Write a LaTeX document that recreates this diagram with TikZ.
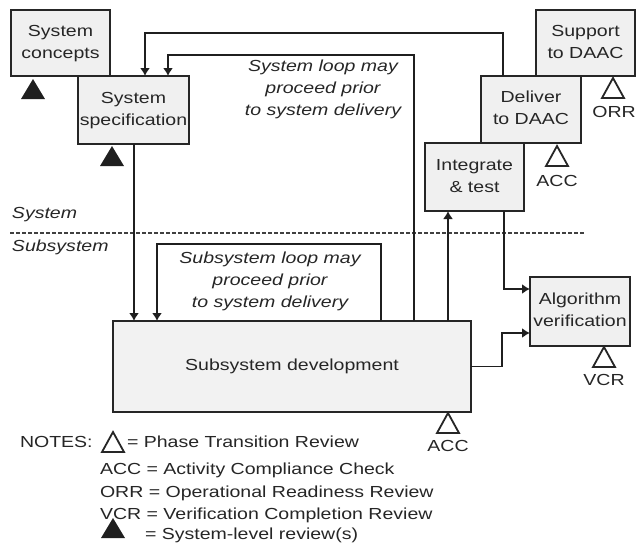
\documentclass[tikz,border=0pt]{standalone}
\usepackage{fontspec}
\setmainfont{Liberation Sans}
\usepackage{graphicx}
\usetikzlibrary{arrows.meta}
\newcommand{\wt}[1]{\scalebox{1.22}[1]{\begin{tabular}{@{}c@{}}#1\end{tabular}}}
\newcommand{\wl}[1]{\scalebox{1.22}[1]{#1}}
\begin{document}
\begin{tikzpicture}[x=1pt,y=-1pt,
  every node/.style={font=\fontsize{16}{22}\selectfont, inner sep=0pt, outer sep=0pt, text=black!85},
  box/.style={draw=black!85, line width=2pt, fill=black!6},
  conn/.style={draw=black!88, line width=1.6pt},
  arr/.style={conn, -{Latex[length=8pt,width=10pt]}},
  lbl/.style={anchor=center},
  wtri/.pic={\draw[line width=1.8pt, draw=black!85, fill=white, line join=miter] (-11,0) -- (11,0) -- (0,-20) -- cycle;},
  btri/.pic={\fill[black!88] (-12,0) -- (12,0) -- (0,-20) -- cycle;}
]
\useasboundingbox[fill=white] (0,0) rectangle (638,544);

% boxes
\node[box, minimum width=99pt, minimum height=66pt] (concepts) at (60.5,43) {\wt{System\\concepts}};
\node[box, minimum width=111pt, minimum height=68pt] (spec) at (133.5,110) {\wt{System\\specification}};
\node[box, minimum width=99pt, minimum height=66pt] (support) at (585.5,43) {\wt{Support\\to DAAC}};
\node[box, minimum width=100pt, minimum height=67pt] (deliver) at (531,109.5) {\wt{Deliver\\to DAAC}};
\node[box, minimum width=99pt, minimum height=68pt] (integrate) at (474.5,177) {\wt{Integrate\\\& test}};
\node[box, fill=black!5, minimum width=358pt, minimum height=91pt] (subsys) at (292,366.5) {\wl{Subsystem development}};
\node[box, minimum width=100pt, minimum height=69pt] (algo) at (580,311.5) {\wt{Algorithm\\verification}};

% review triangles
\pic at (33,99) {btri};
\pic at (112,166) {btri};
\pic at (613,98) {wtri};
\pic at (557,166) {wtri};
\pic at (448,433) {wtri};
\pic at (604,367) {wtri};

\node[lbl] (orr) at (614,112) {\wl{ORR}};
\node[lbl] (acc1) at (557,181) {\wl{ACC}};
\node[lbl] (acc2) at (448,446) {\wl{ACC}};
\node[lbl] (vcr) at (604,380) {\wl{VCR}};

% system / subsystem divider
\coordinate (dl) at (10,233);
\coordinate (dr) at (584,233);
\draw[black!75, line width=1.4pt, dash pattern=on 4pt off 2pt] (dl) -- (dr);
\node[anchor=base west] (systxt) at (12,218) {\wl{\itshape System}};
\node[anchor=base west] (subtxt) at (12,251) {\wl{\itshape Subsystem}};

% connectors
\coordinate (a1) at (503,33);
\coordinate (a1b) at (145,33);
\draw[arr] (a1 |- deliver.north) -- (a1) -- (a1b) -- (a1b |- spec.north);

\coordinate (a2) at (414,55);
\coordinate (a2b) at (168,55);
\draw[arr] (a2 |- subsys.north) -- (a2) -- (a2b) -- (a2b |- spec.north);

\coordinate (a3) at (134,0);
\draw[arr] (a3 |- spec.south) -- (a3 |- subsys.north);

\coordinate (a4) at (381,244);
\coordinate (a4b) at (157,244);
\draw[arr] (a4 |- subsys.north) -- (a4) -- (a4b) -- (a4b |- subsys.north);

\coordinate (a5) at (448,0);
\draw[arr] (a5 |- subsys.north) -- (a5 |- integrate.south);

\coordinate (a6) at (504,289);
\draw[arr] (a6 |- integrate.south) -- (a6) -- (a6 -| algo.west);

\coordinate (a7) at (502,333);
\draw[arr] (subsys.east) -| (a7) -- (a7 -| algo.west);

% loop labels
\node (sysloop) at (323,89) {\wt{\itshape System loop may\\\itshape proceed prior\\\itshape to system delivery}};
\node (subloop) at (270,281) {\wt{\itshape Subsystem loop may\\\itshape proceed prior\\\itshape to system delivery}};

% notes
\node[anchor=base west] (notes) at (20,447) {\wl{NOTES:}};
\pic at (113,452) {wtri};
\node[anchor=base west] (n1) at (127,447) {\wl{= Phase Transition Review}};
\node[anchor=base west] (n2) at (100,474) {\wl{ACC = Activity Compliance Check}};
\node[anchor=base west] (n3) at (100,497) {\wl{ORR = Operational Readiness Review}};
\node[anchor=base west] (n4) at (100,519) {\wl{VCR = Verification Completion Review}};
\pic at (113,538) {btri};
\node[anchor=base west] (n5) at (145,539) {\wl{= System-level review(s)}};
\end{tikzpicture}
\end{document}
